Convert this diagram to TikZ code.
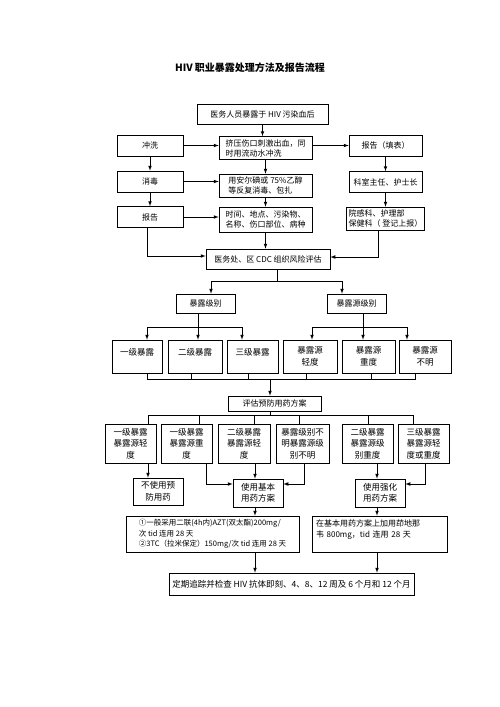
\documentclass[tikz,border=0pt]{standalone}
\usepackage{fontspec}
\setmainfont{Noto Sans CJK SC}
\usepackage{tikz}
\usetikzlibrary{calc, positioning}

\tikzset{
    bx/.style={draw, inner sep=2pt, align=center, font=\fontsize{8}{10}\selectfont},
    sz/.style 2 args={minimum width=#1pt, minimum height=#2pt},
    big/.style={font=\fontsize{8.5}{11.5}\selectfont}
}

\begin{document}
\begin{tikzpicture}[>=latex, x=1pt, y=-1pt, line width=0.7pt]
    \useasboundingbox (0,0) rectangle (500,707);

    % 标题
    \node[font=\fontsize{10}{12}\selectfont\bfseries] (title) at (250,68) {HIV 职业暴露处理方法及报告流程};

    % 暴露后处理
    \node[bx, sz={131}{20}] (expo) at (262.5,114) {医务人员暴露于 HIV 污染血后};
    \node[bx, sz={66}{21}] (wash) at (150,145.5) {冲洗};
    \node[bx, sz={66}{21}] (disinf) at (150,181.5) {消毒};
    \node[bx, sz={66}{21}] (report) at (150,217) {报告};
    \node[bx, sz={93}{23}, align=left] (squeeze) at (265.5,148) {挤压伤口刺激出血，同\\时用流动水冲洗};
    \node[bx, sz={93}{23}, align=left] (iodine) at (265.5,185.5) {用安尔碘或 75\%乙醇\\等反复消毒、包扎};
    \node[bx, sz={93}{25}, align=left] (record) at (265.5,219.5) {时间、地点、污染物、\\名称、伤口部位、病种};
    \node[bx, sz={73}{21}] (fill) at (385.5,145.5) {报告（填表）};
    \node[bx, sz={73}{21}] (head) at (385.5,182) {科室主任、护士长};
    \node[bx, sz={73}{23}, align=left] (dept) at (385.5,218.5) {院感科、护理部\\保健科（ 登记上报）};
    \node[bx, sz={124}{20}] (cdc) at (268,259) {医务处、区 CDC 组织风险评估};

    \draw[->] (expo.south) -- (expo.south |- squeeze.north);
    \draw[->] (squeeze) -- (iodine);
    \draw[->] (iodine) -- (record);
    \draw[->] (record.south) -- (record.south |- cdc.north);
    \draw[->] (wash) -- (disinf);
    \draw[->] (disinf) -- (report);
    \draw[->] (wash.east) -- (wash.east -| squeeze.west);
    \draw[->] (disinf.east) -- (disinf.east -| iodine.west);
    \draw[->] (report.east) -- (report.east -| record.west);
    \draw[->] (report.south -| 147,0) |- ([yshift=3pt]cdc.west);
    \draw[->] (fill.west -| squeeze.east) -- (fill.west);
    \draw[->] (fill) -- (head);
    \draw[->] (head) -- (dept);
    \draw[->] (dept.south -| 378,0) |- ([yshift=2pt]cdc.east);

    % 暴露分级
    \node[bx, sz={59}{19}] (level) at (205.5,303.5) {暴露级别};
    \node[bx, sz={59}{19}] (srclevel) at (356.5,303.5) {暴露源级别};
    \node[bx, big, sz={50}{33}, text depth=10pt] (lvA) at (137,356.5) {一级暴露};
    \node[bx, big, sz={54}{33}, text depth=10pt] (lvB) at (195,356.5) {二级暴露};
    \node[bx, big, sz={51}{33}, text depth=10pt] (lvC) at (252.5,356.5) {三级暴露};
    \node[bx, big, sz={54}{33}] (srcA) at (310,356.5) {暴露源\\轻度};
    \node[bx, big, sz={53}{33}] (srcB) at (368.5,356.5) {暴露源\\重度};
    \node[bx, big, sz={52}{33}] (srcC) at (425,356.5) {暴露源\\不明};
    \node[bx, sz={93}{15}] (plan) at (274.5,403.5) {评估预防用药方案};

    \coordinate (j1) at (277,281);
    \coordinate (j2) at (198,327);
    \coordinate (j3) at (363,327);
    \coordinate (j4) at (270,379);
    \coordinate (j5) at (270,415);

    \draw (cdc.south -| j1) -- (j1);
    \draw[->] (j1) -| (level.north -| 211,0);
    \draw[->] (j1) -| (srclevel.north -| 342,0);
    \draw (level.south -| j2) -- (j2);
    \draw[->] (j2) -| (lvA.north -| 147,0);
    \draw[->] (j2) -- (lvB.north -| j2);
    \draw[->] (j2) -| (lvC.north -| 242,0);
    \draw (srclevel.south -| j3) -- (j3);
    \draw[->] (j3) -| (srcA.north -| 312,0);
    \draw[->] (j3) -- (srcB.north -| j3);
    \draw[->] (j3) -| (srcC.north -| 407,0);

    % 汇总到评估
    \draw (lvA.south -| 147,0) |- (j4);
    \draw (lvB.south -| 191,0) |- (j4);
    \draw (lvC.south -| 248,0) |- (j4);
    \draw (srcA.south -| 306,0) |- (j4);
    \draw (srcB.south -| 371,0) |- (j4);
    \draw (srcC.south -| 415,0) |- (j4);
    \draw[->] (j4) -- (plan.north -| j4);

    % 用药方案
    \node[bx, big, sz={51}{39}] (caseA) at (130.5,443.5) {一级暴露\\暴露源轻\\度};
    \node[bx, big, sz={51}{39}] (caseB) at (186.5,443.5) {一级暴露\\暴露源重\\度};
    \node[bx, big, sz={52}{39}] (caseC) at (244,443.5) {二级暴露\\暴露源轻\\度};
    \node[bx, big, sz={53}{39}] (caseD) at (302.5,443.5) {暴露级别不\\明暴露源级\\别不明};
    \node[bx, big, sz={51}{39}] (caseE) at (367.5,443.5) {二级暴露\\暴露源级\\别重度};
    \node[bx, big, sz={51}{39}] (caseF) at (423.5,443.5) {三级暴露\\暴露源轻\\度或重度};

    \draw (plan.south -| j5) -- (j5);
    \foreach \n/\x in {caseA/148, caseB/199, caseC/254, caseD/299, caseE/368, caseF/413} {
        \draw (j5) -| (\n.north -| \x,0);
    }

    \node[bx, big, sz={50}{27}] (none) at (158,491.5) {不使用预\\防用药};
    \node[bx, big, sz={50}{28}] (basic) at (258,493) {使用基本\\用药方案};
    \node[bx, big, sz={50}{28}] (strong) at (380,493) {使用强化\\用药方案};

    \draw[->] (caseA.south -| 148,0) -- (none.north -| 148,0);
    \draw[->] (caseB.south -| 206,0) |- ([yshift=9pt]basic.west);
    \draw[->] (caseC.south -| 255,0) -- (basic.north -| 255,0);
    \draw[->] (caseD.south -| 304,0) |- ([yshift=9pt]basic.east);
    \draw[->] (caseE.south -| 377,0) -- (strong.north -| 377,0);
    \draw[->] (caseF.south -| 425,0) |- ([yshift=9pt]strong.east);

    \node[bx, sz={173}{36}, align=left, font=\fontsize{7.5}{10.5}\selectfont] (regA) at (212.5,534)
        {①一般采用二联(4h内)AZT(双太酯)200mg/\\次 tid 连用 28 天\\②3TC（拉米保定）150mg/次 tid 连用 28 天};
    \node[bx, sz={135}{36}, inner sep=4pt, text width=127pt, align=left, font=\fontsize{8}{10.5}\selectfont] (regB) at (379.5,534)
        {在基本用药方案上加用茚地那\\韦 800mg，tid 连用 28 天\\~};
    \node[bx, big, sz={245}{22}] (follow) at (291.5,584) {定期追踪并检查 HIV 抗体即刻、4、8、12 周及 6 个月和 12 个月};

    \draw[->] (basic.south -| 255,0) -- (regA.north -| 255,0);
    \draw[->] (strong.south -| 377,0) -- (regB.north -| 377,0);
    \draw[->] (regA.south -| 255,0) -- (follow.north -| 255,0);
    \draw[->] (regB.south -| 377,0) -- (follow.north -| 377,0);
\end{tikzpicture}
\end{document}
